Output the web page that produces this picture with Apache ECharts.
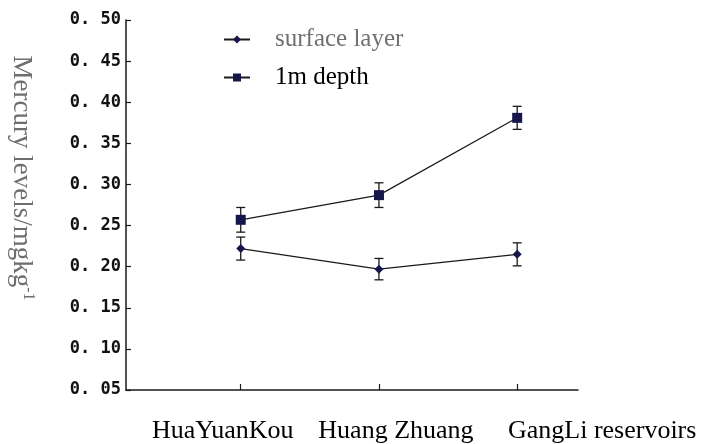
<!DOCTYPE html>
<html>
<head>
<meta charset="utf-8">
<script src="https://cdn.jsdelivr.net/npm/echarts@6/dist/echarts.min.js"></script>
<style>
  html, body { margin: 0; padding: 0; background: #fff; }
  #chart { width: 701px; height: 444px; }
</style>
</head>
<body>
<div id="chart"></div>
<script>
// Sampling sites along the river
const categories = ['HuaYuanKou', 'Huang Zhuang', 'GangLi reservoirs'];
// Mean mercury levels (mg/kg) and their standard errors
const surfaceLayer = [0.222, 0.197, 0.215];
const surfaceErr = [0.014, 0.013, 0.014];
const depth1m = [0.257, 0.287, 0.381];
const depthErr = [0.015, 0.015, 0.014];
const seriesNames = ['surface layer', '1m depth'];

const SERIF = '"Liberation Serif", "Times New Roman", serif';
const ink = '#1a1a1a';
const markColor = '#16164a';

function points(values) {
  return values.map((v, i) => [i + 1, v]);
}
function errRows(values, errs) {
  return values.map((v, i) => [i + 1, v - errs[i], v + errs[i]]);
}

// Vertical error bar with short caps
function renderErrorBar(params, api) {
  const x = api.value(0);
  const lo = api.coord([x, api.value(1)]);
  const hi = api.coord([x, api.value(2)]);
  const half = 4.5;
  const style = { stroke: ink, lineWidth: 1.3, fill: null };
  return {
    type: 'group',
    children: [
      { type: 'line', shape: { x1: lo[0], y1: lo[1], x2: hi[0], y2: hi[1] }, style },
      { type: 'line', shape: { x1: hi[0] - half, y1: hi[1], x2: hi[0] + half, y2: hi[1] }, style },
      { type: 'line', shape: { x1: lo[0] - half, y1: lo[1], x2: lo[0] + half, y2: lo[1] }, style }
    ]
  };
}

// Site names sit a little off their ticks
const labelShift = [
  { padding: [0, 36, 0, 0] },
  { padding: [0, 0, 0, 34] },
  { padding: [0, 0, 0, 170] }
];
const richLabels = {};
labelShift.forEach((s, i) => {
  richLabels['c' + i] = Object.assign({
    fontFamily: SERIF, fontSize: 26, color: '#000'
  }, s);
});

const chart = echarts.init(document.getElementById('chart'), null, { renderer: 'canvas' });
chart.setOption({
  animation: false,
  backgroundColor: '#fff',
  grid: { left: 123, right: 123, top: 20, bottom: 52, containLabel: false },
  legend: {
    orient: 'vertical',
    left: 218,
    top: 22,
    itemGap: 13,
    itemWidth: 26,
    itemHeight: 10,
    textStyle: { fontFamily: SERIF, fontSize: 25, color: '#000', padding: [0, 0, 0, 20] },
    data: [
      { name: seriesNames[0], textStyle: { color: '#707070' } },
      { name: seriesNames[1], textStyle: { color: '#000' } }
    ]
  },
  xAxis: {
    type: 'value',
    min: 0.17,
    max: 3.44,
    splitLine: { show: false },
    axisLine: { lineStyle: { color: ink, width: 1.5 } },
    axisTick: { inside: true, length: 6, customValues: [1, 2, 3], lineStyle: { color: ink, width: 1.2 } },
    axisLabel: {
      customValues: [1, 2, 3],
      margin: 28,
      fontFamily: SERIF,
      fontSize: 26,
      color: '#000',
      formatter: (v) => {
        const i = Math.round(v) - 1;
        return categories[i] ? '{c' + i + '|' + categories[i] + '}' : '';
      },
      rich: richLabels
    }
  },
  yAxis: {
    type: 'value',
    min: 0.05,
    max: 0.5,
    interval: 0.05,
    splitLine: { show: false },
    axisLine: { show: true, lineStyle: { color: ink, width: 1.5 } },
    axisTick: { show: true, inside: true, length: 5, lineStyle: { color: ink, width: 1.2 } },
    axisLabel: {
      margin: 5,
      fontFamily: '"DejaVu Sans Mono", "Liberation Mono", monospace',
      fontWeight: 'bold',
      fontSize: 17,
      color: '#111',
      formatter: (v) => v.toFixed(2).replace('.', '. ')
    },
    name: 'Mercury levels/mgkg{sup|-1}',
    nameLocation: 'middle',
    nameRotate: -90,
    nameGap: 90,
    nameTextStyle: {
      fontFamily: SERIF,
      fontSize: 27,
      color: '#6e6e6e',
      padding: [0, 54, 0, 0],
      rich: {
        sup: { fontFamily: SERIF, fontSize: 16, color: '#6e6e6e', padding: [0, 0, 13, 0] }
      }
    }
  },
  series: [
    {
      name: seriesNames[0],
      type: 'line',
      data: points(surfaceLayer),
      symbol: 'diamond',
      symbolSize: 9,
      itemStyle: { color: markColor },
      lineStyle: { color: ink, width: 1.2 },
      z: 3
    },
    {
      name: seriesNames[1],
      type: 'line',
      data: points(depth1m),
      symbol: 'rect',
      symbolSize: 10,
      itemStyle: { color: markColor },
      lineStyle: { color: ink, width: 1.2 },
      z: 3
    },
    {
      type: 'custom',
      renderItem: renderErrorBar,
      data: errRows(surfaceLayer, surfaceErr),
      encode: { x: 0, y: [1, 2] },
      z: 2,
      silent: true
    },
    {
      type: 'custom',
      renderItem: renderErrorBar,
      data: errRows(depth1m, depthErr),
      encode: { x: 0, y: [1, 2] },
      z: 2,
      silent: true
    }
  ]
});
</script>
</body>
</html>
